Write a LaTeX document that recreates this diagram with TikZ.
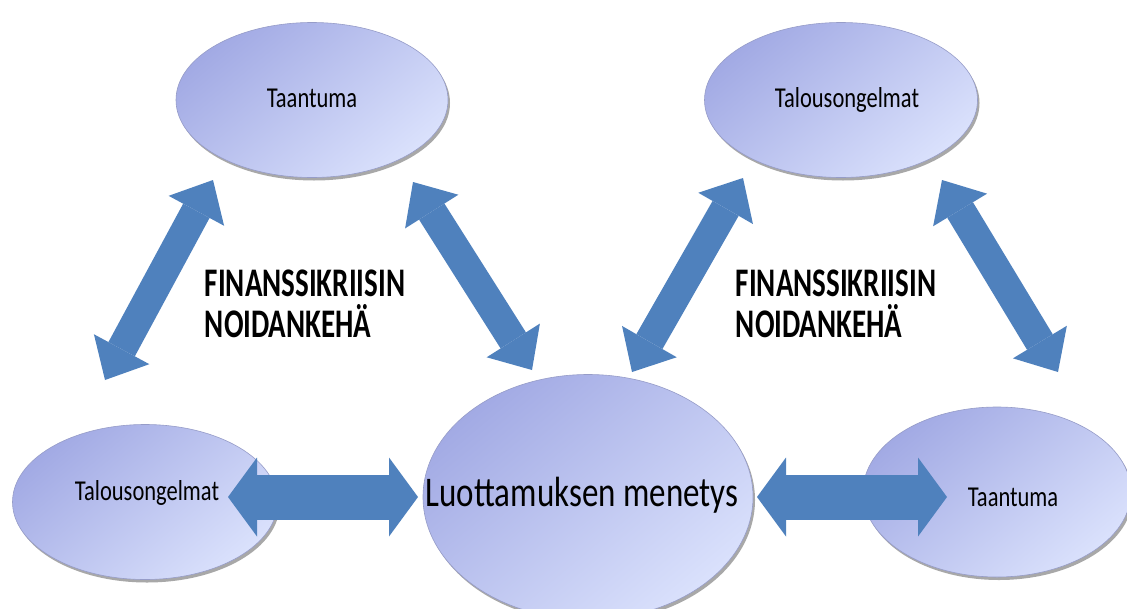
\documentclass[tikz,border=0pt]{standalone}
\usepackage{fontspec}
\setmainfont{Carlito}
\usetikzlibrary{shapes.geometric,arrows.meta,shadows}
\definecolor{bubdark}{RGB}{162,170,228}
\definecolor{bubmid}{RGB}{200,207,247}
\definecolor{bublight}{RGB}{218,225,252}
\definecolor{bubedge}{RGB}{150,156,200}
\definecolor{arrowblue}{RGB}{79,129,189}
\newcommand{\stretchtxt}[3][0pt]{\makebox[0pt]{\hspace*{#2}\raisebox{#1}[\height][\depth]{\scalebox{1}[1.28]{#3}}}}
\tikzset{
  bubble/.style={ellipse, inner sep=0pt, shading=axis, top color=bubdark, middle color=bubmid, bottom color=bublight, shading angle=40, draw=bubedge, line width=0.6pt, text=black, font=\fontsize{22.5}{26}\selectfont,
    drop shadow={shadow xshift=2pt, shadow yshift=-3pt, fill=gray!75, opacity=0.9}},
  dbl/.style={draw=arrowblue, line width=30pt, {Triangle[length=35pt,width=63pt,line width=0pt]}-{Triangle[length=35pt,width=63pt,line width=0pt]}},
  hdbl/.style={draw=arrowblue, line width=45pt, {Triangle[length=29pt,width=79pt,line width=0pt]}-{Triangle[length=29pt,width=79pt,line width=0pt]}},
  titletext/.style={font=\bfseries\fontsize{29}{41}\selectfont, align=left, text=black}
}
\begin{document}
\begin{tikzpicture}[x=1pt,y=-1pt]
\useasboundingbox (0,0) rectangle (1127,608);
\clip (0,0) rectangle (1127,608);
\fill[white] (0,0) rectangle (1127,608);

% ellipses
\node[bubble, minimum width=272pt, minimum height=155pt] (t1) at (312,100) {\stretchtxt[2pt]{0pt}{Taantuma}};
\node[bubble, minimum width=273pt, minimum height=155pt] (t2) at (841,100) {\stretchtxt{12pt}{Talousongelmat}};
\node[bubble, minimum width=265pt, minimum height=155pt] (b1) at (145,502) {\stretchtxt[9pt]{4pt}{Talousongelmat}};
\node[bubble, minimum width=268pt, minimum height=170pt] (b2) at (997,492) {\stretchtxt[-5pt]{32pt}{Taantuma}};
\node[bubble, minimum width=330pt, minimum height=245pt, font=\fontsize{33}{38}\selectfont] (c) at (588,497) {\stretchtxt[2pt]{-12pt}{Luottamuksen menetys}};

% arrow end points
\coordinate (a1s) at (105,380); \coordinate (a1e) at (213,180);
\coordinate (a2s) at (413,182); \coordinate (a2e) at (532,370);
\coordinate (a3s) at (632,372); \coordinate (a3e) at (743,178);
\coordinate (a4s) at (942,180); \coordinate (a4e) at (1058,372);
\coordinate (h1s) at (228,497); \coordinate (h1e) at (418,497);
\coordinate (h2s) at (757,497); \coordinate (h2e) at (947,497);

\draw[dbl] (a1s) -- (a1e);
\draw[dbl] (a2s) -- (a2e);
\draw[dbl] (a3s) -- (a3e);
\draw[dbl] (a4s) -- (a4e);
\draw[hdbl] (h1s) -- (h1e);
\draw[hdbl] (h2s) -- (h2e);

% titles
\node[titletext] (f1) at (305,304) {\scalebox{1}[1.4]{FINANSSIKRIISIN}\\\scalebox{1}[1.4]{NOIDANKEHÄ}};
\node[titletext] (f2) at (836,304) {\scalebox{1}[1.4]{FINANSSIKRIISIN}\\\scalebox{1}[1.4]{NOIDANKEHÄ}};
\end{tikzpicture}
\end{document}
